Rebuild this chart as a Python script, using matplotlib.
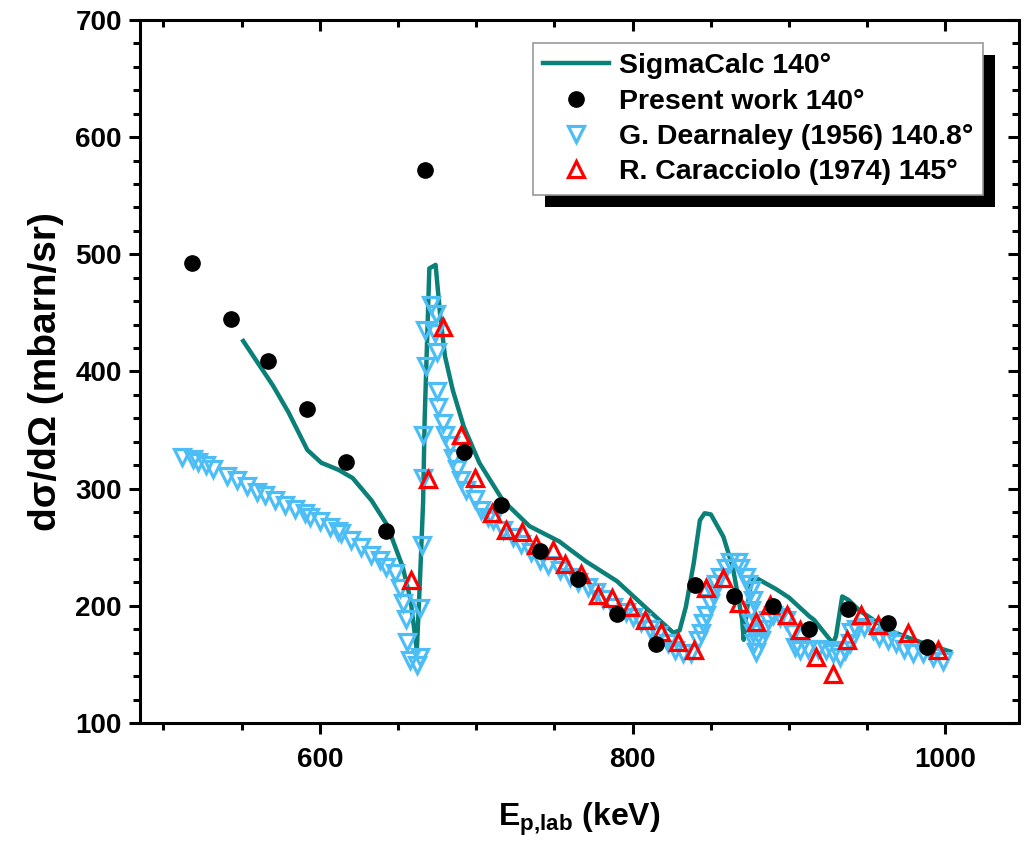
import matplotlib
matplotlib.use("Agg")
import matplotlib.pyplot as plt
from matplotlib.patches import Rectangle
from matplotlib.ticker import MultipleLocator

plt.rcParams["font.family"] = ["Liberation Sans", "DejaVu Sans"]
plt.rcParams["font.weight"] = "bold"
plt.rcParams["mathtext.fontset"] = "custom"
plt.rcParams["mathtext.bf"] = "Liberation Sans:bold"
plt.rcParams["mathtext.rm"] = "Liberation Sans:bold"

# ---- data --------------------------------------------------------------------
calc_e = [551, 560, 570, 580, 592, 601, 603, 612, 621, 633, 643, 653, 658, 662,
          664, 666, 667, 670, 674, 677, 680, 685, 692, 702, 717, 734, 753, 770,
          790, 812, 826, 830, 834, 839, 843, 846, 850, 858, 864, 867, 870, 871,
          873, 876, 880, 892, 900, 913, 916, 928, 930, 934, 938, 945, 964, 986, 1003]
calc_y = [426, 408, 388, 365, 333, 322, 321, 316, 309, 290, 269, 233, 205, 162,
          222, 288, 359, 488, 491, 447, 413, 384, 353, 322, 290, 268, 255, 238,
          221, 194, 177, 179, 199, 236, 273, 279, 278, 259, 233, 211, 188, 171,
          196, 222, 223, 214, 207, 191, 188, 168, 174, 208, 205, 196, 179, 168, 161]

present_e = [518, 543, 567, 592, 617, 642, 667, 692, 716, 741, 765, 790, 815, 840,
             865, 890, 913, 938, 963, 988]
present_y = [493, 445, 409, 368, 323, 264, 572, 331, 286, 247, 223, 193, 167, 218,
             208, 200, 180, 197, 185, 165]

dearn_e = [511.6, 518.6, 522.2, 527.2, 531.8, 540.4, 546.7, 553.1, 559.5, 564.9,
           571.2, 577.6, 584, 590.4, 593.6, 600, 606.4, 611.7, 613.8, 620.2, 626.6,
           633, 638.3, 642.6, 647.9, 651.1, 653.2, 655, 655.8, 657.5, 661.8, 663.9,
           663.9, 665, 666, 666, 668, 667, 671.3, 674.5, 673.5, 674.6, 674.6, 675.6,
           678.8, 680, 683.1, 685.2, 687.4, 690.5, 693.7, 699, 703.3, 707.5, 710.8,
           717.2, 723.5, 728.9, 735.3, 740.6, 745.9, 753.4, 759.7, 765.1, 771.5,
           776.8, 781, 787.4, 796, 800.2, 805.5, 810.9, 816.2, 822.6, 826.8, 832.2,
           837.5, 841.8, 843.9, 845, 847.1, 849.2, 851.3, 853.5, 855.6, 859.9, 862,
           867.3, 868.4, 872.6, 873.7, 875.8, 876.8, 875.8, 875.8, 876.8, 877.9, 879,
           882.2, 884.3, 886.4, 889.6, 893.9, 898.2, 902.4, 903.5, 906.7, 912, 918.4,
           923.7, 928, 932.3, 935.5, 938.7, 939.7, 942.9, 948.2, 953.6, 957.8, 963.2,
           968.5, 973.8, 979.2, 985.5, 991.9, 998.3]
dearn_y = [327, 325, 323, 320, 316.5, 311, 307, 302, 297.5, 294.5,
           290, 286, 283, 279, 275.5, 272, 267, 263.5, 262, 256, 250.5,
           243.5, 239, 233.5, 228, 215, 202, 189, 169, 154, 149.5, 156.5,
           198, 252, 309, 346, 405, 435, 457, 449, 432.5, 417, 383, 370,
           356, 346, 337, 326, 317, 307.5, 299, 291, 282, 276, 273,
           265, 259, 253, 246, 239, 235, 230.5, 225, 220.5, 216,
           212, 206, 199, 195, 190.5, 186.5, 180.5, 175, 168, 162.5, 159.5,
           159.5, 171, 176.5, 185, 192, 202, 210.5, 219, 225, 232, 237.5,
           237.5, 232, 225, 219, 213.5, 205, 196.5, 185, 176.5, 168, 161,
           171, 180.5, 188, 192, 190.5, 188, 176.5, 165, 162.5, 163.5, 163.5,
           162.5, 159.5, 156.5, 162.5, 168, 178, 180.5, 182, 179.5, 173.5, 171,
           168, 163.5, 159.5, 159.5, 156.5, 152.5]

carac_e = [658, 669, 679, 690, 699, 710, 719, 729, 738, 749, 757, 767, 778, 787,
           798, 808, 818, 829, 839, 847, 858, 868, 879, 888, 899, 907, 917, 928,
           937, 946, 957, 976, 995]
carac_y = [222, 308, 438, 346, 309, 279, 265, 263, 252, 248, 236, 227, 209, 207,
           199, 188, 178, 169, 162, 215, 224, 202, 186, 201, 192, 179, 156, 142,
           171, 192, 184, 177, 162]

TEAL = "#0a8078"
BLUE = "#4dbdf5"
RED = "#ff0000"

fig = plt.figure(figsize=(10.28, 8.44), dpi=100)
ax = fig.add_axes([0.1362, 0.1434, 0.855, 0.8329])

ax.plot(calc_e, calc_y, color=TEAL, lw=3.2, label="SigmaCalc 140°", zorder=2)
ax.plot(present_e, present_y, "o", color="black", ms=11, label="Present work 140°", zorder=4)
ax.plot(dearn_e, dearn_y, "v", mfc="none", mec=BLUE, mew=2.3, ms=11,
        label="G. Dearnaley (1956) 140.8°", zorder=3)
ax.plot(carac_e, carac_y, "^", mfc="none", mec=RED, mew=2.3, ms=11,
        label="R. Caracciolo (1974) 145°", zorder=3)

ax.set_xlim(485, 1047)
ax.set_ylim(100, 700)
ax.xaxis.set_major_locator(MultipleLocator(200))
ax.xaxis.set_minor_locator(MultipleLocator(50))
ax.yaxis.set_major_locator(MultipleLocator(100))
ax.yaxis.set_minor_locator(MultipleLocator(20))

for s in ax.spines.values():
    s.set_linewidth(2.2)
ax.tick_params(which="both", direction="out", width=2.2, labelsize=20)
ax.tick_params(axis="y", pad=5)
ax.tick_params(axis="x", pad=9)
ax.tick_params(which="major", length=8)
ax.tick_params(which="minor", length=5)
ax.tick_params(which="both", top=True, right=True)
# right / top ticks point inward
for t in ax.yaxis.get_major_ticks() + ax.yaxis.get_minor_ticks():
    t.tick2line.set_marker(matplotlib.lines.TICKLEFT)
for t in ax.xaxis.get_major_ticks() + ax.xaxis.get_minor_ticks():
    t.tick2line.set_marker(matplotlib.lines.TICKDOWN)

ax.set_xlabel(r"E$_{\mathbf{p{,}lab}}$ (keV)", fontsize=23, fontweight="bold", labelpad=20)
ax.set_ylabel("dσ/dΩ (mbarn/sr)", fontsize=28, fontweight="bold", labelpad=8)

leg = ax.legend(loc="upper right", bbox_to_anchor=(0.959, 0.967), fontsize=20.5,
                frameon=True, fancybox=False, framealpha=1, handlelength=2.3,
                borderpad=0.35, labelspacing=0.33, handletextpad=0.35, borderaxespad=0)
leg.get_frame().set_edgecolor("#999999")
leg.get_frame().set_facecolor("white")
leg.get_frame().set_linewidth(1.2)
leg.set_zorder(6)

fig.canvas.draw()
bb = leg.get_window_extent()
shadow = Rectangle((bb.x0 + 12, bb.y0 - 12), bb.width, bb.height, transform=None,
                   facecolor="black", edgecolor="none", zorder=5.5, clip_on=False)
ax.add_artist(shadow)

fig.savefig("out.png", dpi=100)
